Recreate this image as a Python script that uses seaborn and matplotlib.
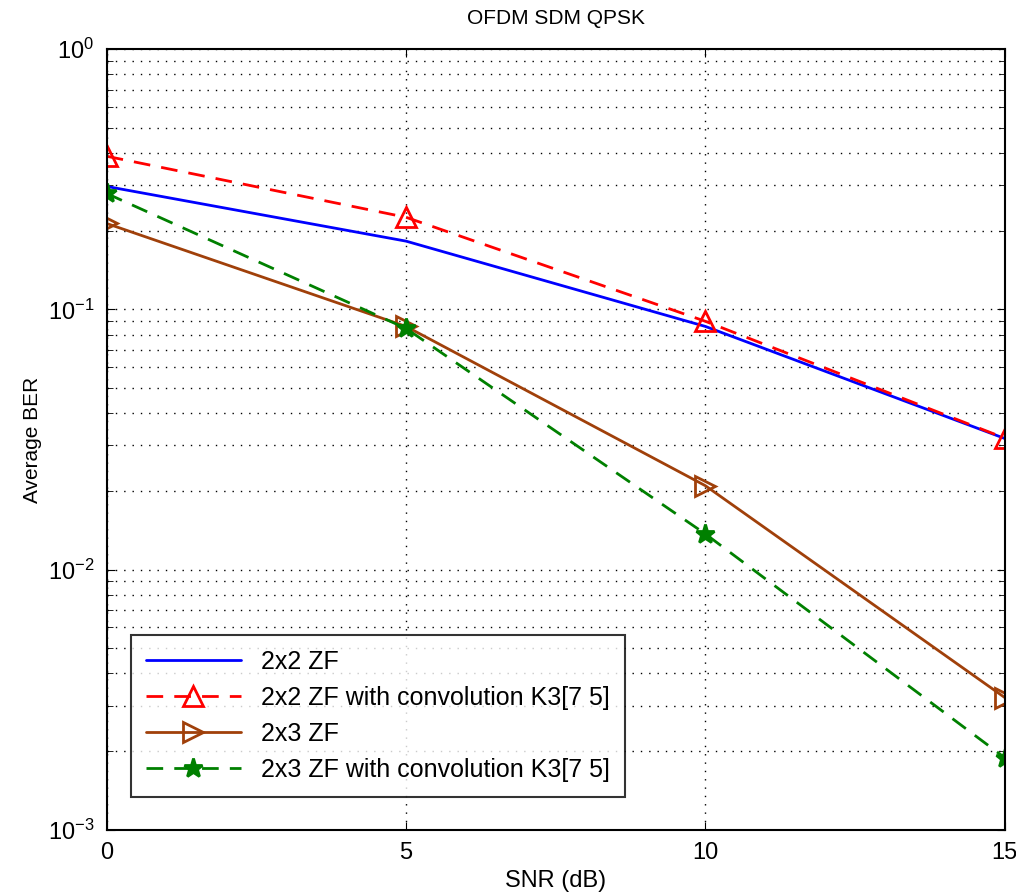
import numpy as np
import pandas as pd
import matplotlib
matplotlib.use("Agg")
import matplotlib.pyplot as plt
import seaborn as sns

# SNR points and BER values
snr = [0, 5, 10, 15]
ber_2x2 = [0.297, 0.183, 0.086, 0.0319]
ber_2x2_conv = [0.388, 0.226, 0.090, 0.0320]
ber_2x3 = [0.214, 0.086, 0.021, 0.00322]
ber_2x3_conv = [0.279, 0.0845, 0.0137, 0.00189]

labels = ["2x2 ZF", "2x2 ZF with convolution K3[7 5]",
          "2x3 ZF", "2x3 ZF with convolution K3[7 5]"]
colors = ["#0000ff", "#ff0000", "#a0400a", "#008000"]
markers = [None, "^", ">", "*"]
styles = ["-", "--", "-", "--"]

sns.set_style("white")
plt.rcParams['font.family'] = ['Liberation Sans', 'DejaVu Sans']
plt.rcParams['text.color'] = 'black'
plt.rcParams['axes.labelcolor'] = 'black'
plt.rcParams['xtick.color'] = 'black'
plt.rcParams['ytick.color'] = 'black'

fig = plt.figure(figsize=(10.16, 8.96), dpi=100)
ax = fig.add_axes([0.105, 0.074, 0.884, 0.871])

series = [ber_2x2, ber_2x2_conv, ber_2x3, ber_2x3_conv]
for vals, lab, c, m, ls in zip(series, labels, colors, markers, styles):
    df = pd.DataFrame({"snr": snr, "ber": vals})
    kw = dict(x="snr", y="ber", data=df, ax=ax, color=c, label=lab,
              linewidth=2)
    if m is not None:
        kw.update(marker=m, markersize=14,
                  markerfacecolor="none" if m != "*" else c,
                  markeredgecolor=c, markeredgewidth=2)
    sns.lineplot(**kw)
    if ls == "--":
        ax.lines[-1].set_dashes((6, 4))

ax.set_yscale("log")
ax.set_xlim(0, 15)
ax.set_ylim(1e-3, 1)
ax.set_xticks([0, 5, 10, 15])
ax.tick_params(axis="both", labelsize=17, direction="in", length=6, pad=9,
               top=True, right=True, bottom=True, left=True)
ax.tick_params(axis="y", which="minor", direction="in", length=4, right=True, left=True)
ax.grid(True, which="major", color="black", linestyle=(0, (1, 5)), linewidth=1)
ax.grid(True, which="minor", axis="y", color="black", linestyle=(0, (1, 5)), linewidth=1)
for s in ax.spines.values():
    s.set_color("black")
    s.set_linewidth(1.5)

ax.set_xlabel("SNR (dB)", fontsize=17, labelpad=4)
ax.set_ylabel("Average BER", fontsize=15, labelpad=4)
ax.set_title("OFDM SDM QPSK", fontsize=15, pad=18)

leg = ax.legend(loc="lower left", bbox_to_anchor=(0.027, 0.042), borderaxespad=0,
                fontsize=18, frameon=True, fancybox=False,
                handlelength=3.8, labelspacing=0.48, borderpad=0.6)
leg.get_frame().set_edgecolor("black")
leg.get_frame().set_linewidth(1.5)

fig.savefig("out.png", dpi=100)
